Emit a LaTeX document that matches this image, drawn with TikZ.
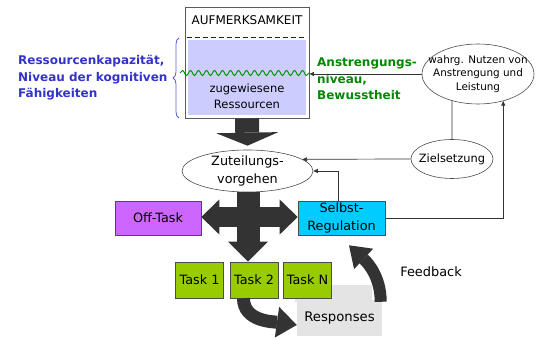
\documentclass[tikz,border=0pt]{standalone}
\usepackage{fontspec}
\setmainfont{DejaVu Sans}
\usetikzlibrary{shapes.geometric,arrows.meta,decorations.pathmorphing,decorations.pathreplacing}
\definecolor{offpurple}{RGB}{204,102,255}
\definecolor{srcyan}{RGB}{0,204,255}
\definecolor{taskgreen}{RGB}{153,204,0}
\definecolor{resfill}{RGB}{204,204,255}
\definecolor{arrowgray}{RGB}{51,51,51}
\definecolor{capblue}{RGB}{51,51,204}
\definecolor{effgreen}{RGB}{0,136,0}
\definecolor{wavegreen}{RGB}{0,150,0}
\definecolor{respgray}{RGB}{228,228,228}
\tikzset{
  boxtext/.style={font=\fontsize{12.8}{18}\selectfont,align=center},
  flatbox/.style={boxtext,draw=black!70,line width=0.6pt,inner sep=0pt},
  taskbox/.style={flatbox,fill=taskgreen,minimum width=48pt,minimum height=36pt},
  oval/.style={ellipse,draw=black!70,fill=white,line width=0.6pt,inner sep=0pt},
  conn/.style={-{Triangle[length=4.5pt,width=4pt]},line width=0.7pt,black!80},
  notetext/.style={inner sep=0pt,align=left,font=\fontsize{12}{16.5}\selectfont\bfseries},
  blockarrow/.style={arrowgray}
}

\begin{document}
\begin{tikzpicture}[x=1pt,y=1pt]
  \useasboundingbox (0,0) rectangle (536,340);
  % attention box
  \node[draw=black!65,fill=white,line width=0.8pt,minimum width=124pt,minimum height=111pt] (attn) at (247,277.5) {};
  \fill[resfill] (188,225) rectangle (306,300);
  \draw[blue,line width=1pt,dash pattern=on 5pt off 3pt] (187,302) -- (307,302);
  \node[font=\fontsize{12}{14}\selectfont] (attntitle) at (247,320) {AUFMERKSAMKEIT};
  \node[align=center,font=\fontsize{11.5}{16}\selectfont] (alloc) at (247,244) {zugewiesene\\Ressourcen};
  \draw[wavegreen,line width=1pt,decorate,decoration={snake,segment length=8pt,amplitude=2.5pt}] (180,267) -- (309,267);
  \draw[capblue!80,line width=0.8pt,decorate,decoration={brace,amplitude=6pt}] (179,222) -- (179,302);
  \node[notetext,text=capblue,anchor=west] (capacity) at (18,262) {Ressourcenkapazität,\\Niveau der kognitiven\\Fähigkeiten};
  \node[notetext,text=effgreen,anchor=west] (effort) at (317,261) {Anstrengungs-\\niveau,\\Bewusstheit};
  % ellipses
  \node[oval,minimum width=112pt,minimum height=60pt] (benefit) at (478,266) {};
  \node[align=center,font=\fontsize{10.4}{13.5}\selectfont] (benefittext) at (benefit) {wahrg. Nutzen von\\Anstrengung und\\Leistung};
  \node[oval,minimum width=131pt,minimum height=42pt] (zut) at (247.5,169) {};
  \node[boxtext] (zuttext) at (zut) {Zuteilungs-\\vorgehen};
  \node[oval,minimum width=82pt,minimum height=39pt] (goal) at (452,181) {};
  \node[font=\fontsize{11.4}{14}\selectfont] (goaltext) at (goal) {Zielsetzung};
  % boxes
  \node[flatbox,fill=offpurple,minimum width=86pt,minimum height=34pt] (off) at (158,122) {Off-Task};
  \node[flatbox,fill=srcyan,minimum width=87pt,minimum height=34pt] (sr) at (341.5,122) {Selbst-\\Regulation};
  \fill[respgray] (295,55) rectangle (372,38);
  \node[fill=respgray,minimum width=85pt,minimum height=36pt,font=\fontsize{13.2}{15}\selectfont] (resp) at (339.5,22) {Responses};
  \node[taskbox] (t1) at (199.5,60) {Task 1};
  \node[taskbox] (t2) at (254,60) {Task 2};
  \node[taskbox] (tn) at (307.5,60) {Task N};
  % thin connectors
  \draw[conn] (benefit.west) -- (benefit.west -| attn.east);
  \draw[line width=0.7pt,black!80] (goal.north) -- (benefit.-134);
  \draw[conn] (goal.west) -- (zut.12.6);
  \draw[conn] ([xshift=-3.5pt]sr.north) |- (zut.east);
  \draw[conn] (sr.east) -| (benefit.-47);
  % block arrows
  \coordinate (hub) at (248,123);
  \draw[blockarrow,line width=24pt,-{Triangle[length=13pt,width=62pt,line width=0pt]}] (attn.south) -- ([yshift=4pt]zut.north);
  \draw[blockarrow,line width=23pt,-{Triangle[length=20pt,width=40pt,line width=0pt]}] (hub |- zut.south) -- (hub |- t2.north);
  \draw[blockarrow,line width=20pt,-{Triangle[length=18pt,width=35pt,line width=0pt]}] (hub) -- (hub -| off.east);
  \draw[blockarrow,line width=20pt,-{Triangle[length=18pt,width=35pt,line width=0pt]}] (hub) -- (hub -| sr.west);
  \draw[blockarrow,line width=13pt,-{Triangle[length=20pt,width=31pt,line width=0pt]}] ([xshift=-10.5pt]t2.south) to[out=-90,in=172] ([yshift=-7pt]resp.west);
  \draw[blockarrow,line width=12pt,-{Triangle[length=20pt,width=28pt,line width=0pt]}] ([xshift=-1.5pt,yshift=-2pt]resp.north east) to[out=90,in=-43] ([xshift=7.5pt,yshift=-10pt]sr.south);
  \node[font=\fontsize{12.9}{15}\selectfont] (fb) at (431,68) {Feedback};
\end{tikzpicture}
\end{document}
